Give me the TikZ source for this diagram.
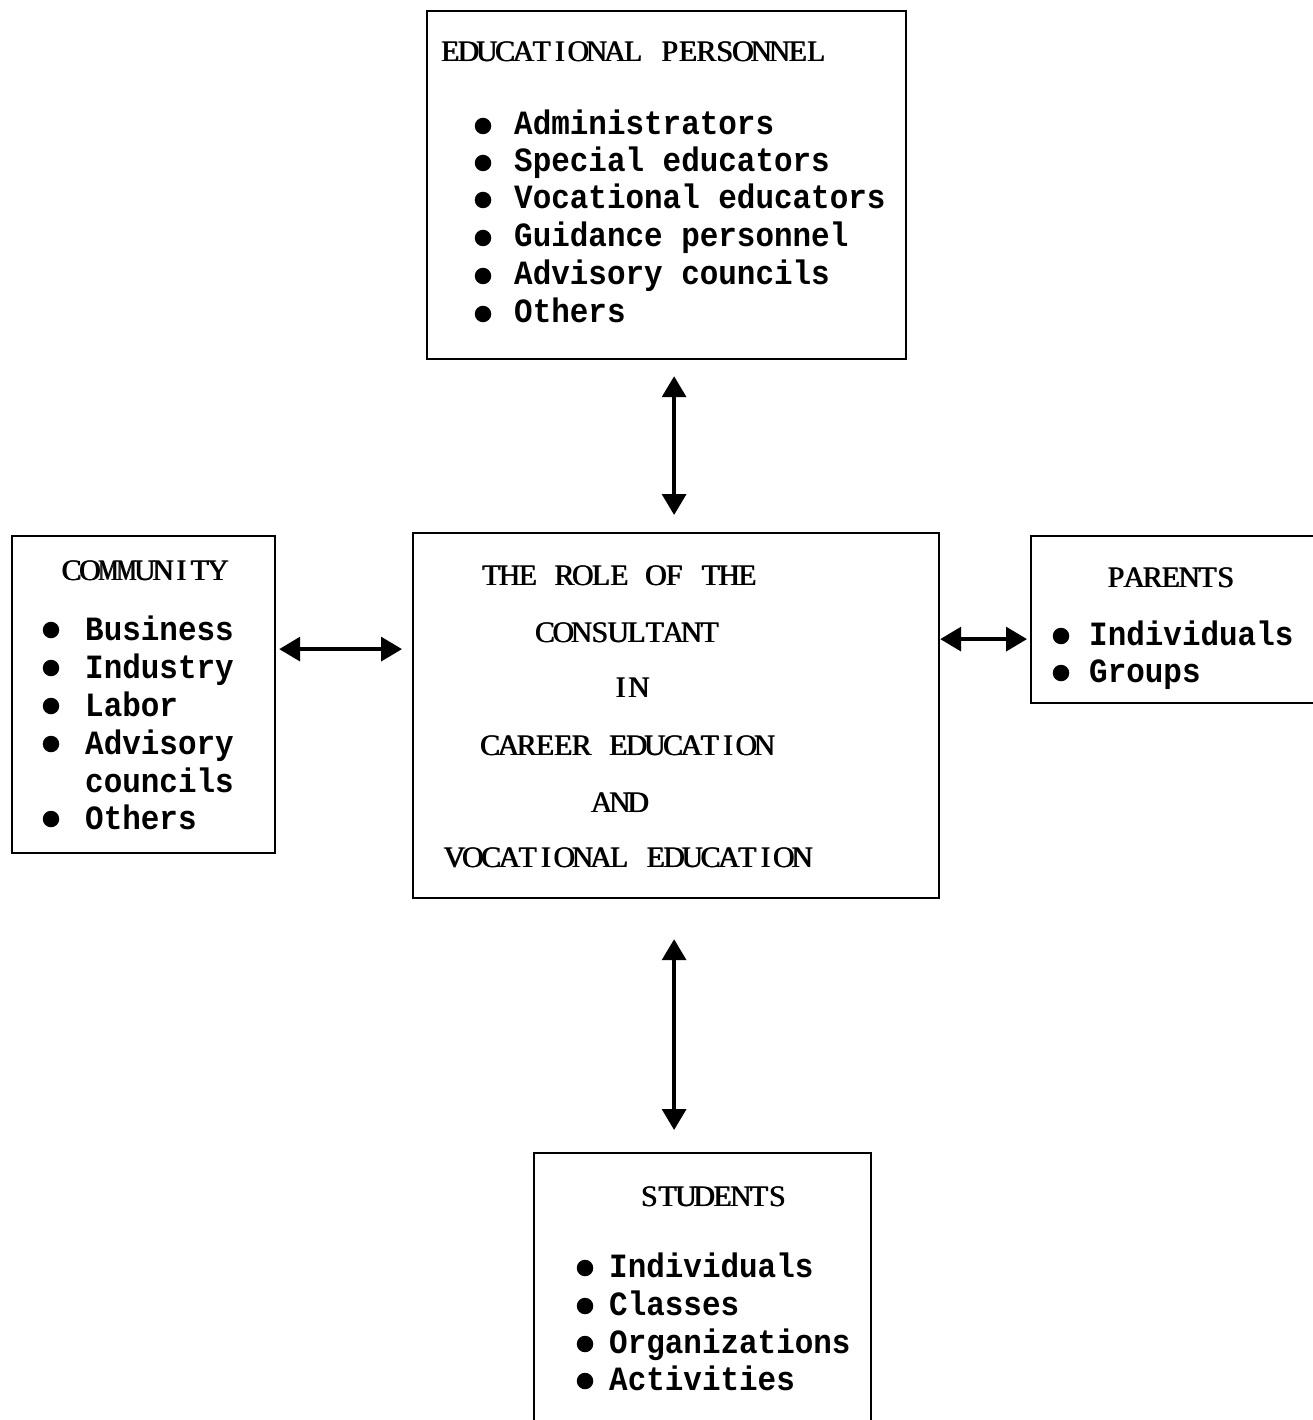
\documentclass[tikz,border=0pt]{standalone}
\usepackage{fontspec}
\usepackage{graphicx}
\usetikzlibrary{arrows.meta}
\setmainfont{Liberation Serif}
\newfontfamily\ttlfont{Liberation Serif}
\newfontfamily\itmfont[FakeStretch=0.91]{Liberation Mono}
\def\twp{18.3pt}
\def\twG#1{\ifx M#1\scalebox{0.76}[1]{M}\else #1\fi}
\newcommand\tw[1]{\twA#1\relax}
\def\twA#1{\ifx\relax#1\else\makebox[\twp]{\makebox[0pt]{\twG{#1}}\kern0.9pt\makebox[0pt]{\twG{#1}}}\expandafter\twA\fi}
\tikzset{
  box/.style={draw, line width=2.2pt, inner sep=0pt, anchor=north west},
  ttl/.style={inner sep=0pt, font=\ttlfont\fontsize{29.7}{30}\selectfont},
  itm/.style={inner sep=0pt, anchor=base west, font=\itmfont\bfseries\fontsize{34}{35}\selectfont},
  bulletdot/.style={circle, fill, inner sep=0pt, minimum size=16.5pt},
  dbl/.style={line width=3.5pt, {Triangle[length=21pt,width=24pt]}-{Triangle[length=21pt,width=24pt]}},
}
\begin{document}
\begin{tikzpicture}[x=1pt, y=-1pt]
\path[use as bounding box, fill=white] (0,0) rectangle (1313,1420);

% top box
\node[box, minimum width=479pt, minimum height=348pt] (edu) at (426,10) {};
\node[ttl, anchor=base west] (eduT) at (441,62) {\tw{EDUCATIONAL~PERSONNEL}};
\foreach \yy/\t [count=\i] in {135/Administrators, 172/Special educators, 209/Vocational educators, 247/Guidance personnel, 285/Advisory councils, 323/Others}{
  \node[bulletdot] (edb\i) at (483,{\yy-9}) {};
  \node[itm] (edi\i) at (514,\yy) {\t};
}

% center box
\node[box, minimum width=526pt, minimum height=365pt] (role) at (412,532) {};
\node[ttl, anchor=base] (r1) at (619.5,585) {\tw{THE~ROLE~OF~THE}};
\node[ttl, anchor=base] (r2) at (627.5,642) {\tw{CONSULTANT}};
\node[ttl, anchor=base] (r3) at (630,697) {\tw{IN}};
\node[ttl, anchor=base] (r4) at (627.5,755) {\tw{CAREER~EDUCATION}};
\node[ttl, anchor=base] (r5) at (620,812) {\tw{AND}};
\node[ttl, anchor=base] (r6) at (628.5,867) {\tw{VOCATIONAL~EDUCATION}};

% left box
\node[box, minimum width=263pt, minimum height=317pt] (comm) at (11,535) {};
\node[ttl, anchor=base] (commT) at (145,580) {\tw{COMMUNITY}};
\foreach \yy/\t [count=\i] in {640/Business, 678/Industry, 716/Labor, 754/Advisory, 829/Others}{
  \node[bulletdot] (cb\i) at (51,{\yy-10}) {};
  \node[itm] (ci\i) at (85,\yy) {\t};
}
\node[itm] (ci6) at (85,792) {councils};

% right box
\node[box, minimum width=300pt, minimum height=167pt] (par) at (1030,535) {};
\node[ttl, anchor=base] (parT) at (1171,587) {\tw{PARENTS}};
\foreach \yy/\t [count=\i] in {645/Individuals, 682/Groups}{
  \node[bulletdot] (pb\i) at (1061,{\yy-9}) {};
  \node[itm] (pi\i) at (1089,\yy) {\t};
}

% bottom box
\node[box, minimum width=337pt, minimum height=300pt] (stud) at (533,1152) {};
\node[ttl, anchor=base] (studT) at (713.5,1206) {\tw{STUDENTS}};
\foreach \yy/\t [count=\i] in {1277/Individuals, 1315/Classes, 1353/Organizations, 1390/Activities}{
  \node[bulletdot] (sb\i) at (585,{\yy-9}) {};
  \node[itm] (si\i) at (609,\yy) {\t};
}

% connectors
\draw[dbl, shorten <=16pt, shorten >=17pt] ([xshift=7.5pt]edu.south) -- ([xshift=-2pt]role.north);
\draw[dbl, shorten <=40pt, shorten >=22pt] ([xshift=-2pt]role.south) -- ([xshift=-28.5pt]stud.north);
\draw[dbl, shorten <=3pt, shorten >=10pt] ([yshift=45.5pt]comm.east) -- ([yshift=66.5pt]role.west);
\draw[dbl, shorten >=3pt] ([yshift=76.5pt]role.east) -- ([yshift=-19.5pt]par.west);
\end{tikzpicture}
\end{document}
